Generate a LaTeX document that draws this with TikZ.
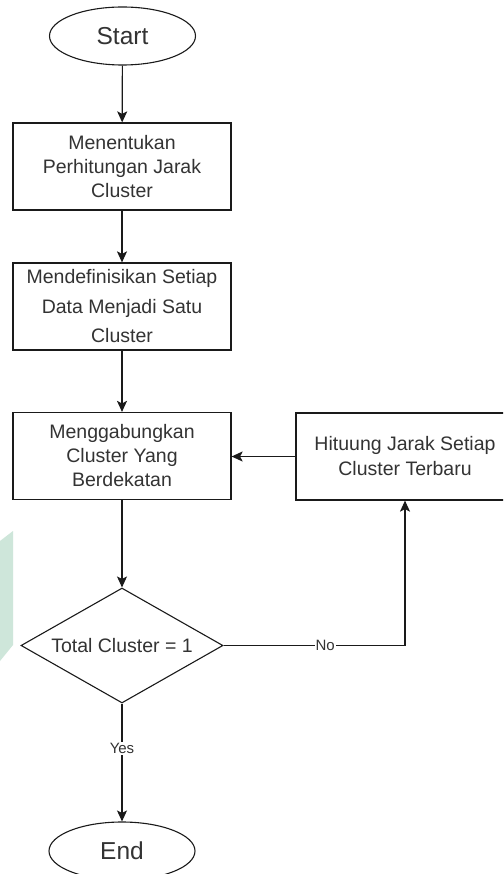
\documentclass[tikz,border=0pt]{standalone}
\usepackage{fontspec}
\setmainfont{Liberation Sans}
\usetikzlibrary{shapes.geometric,arrows.meta}
\definecolor{txt}{HTML}{333333}
\definecolor{ln}{HTML}{1A1A1A}
\definecolor{wm}{RGB}{206,230,218}
\begin{document}
\begin{tikzpicture}[x=1pt,y=-1pt,
  box/.style={draw=ln,line width=1.2pt,minimum width=218pt,minimum height=87pt,inner sep=0pt,align=center,text=txt,font=\fontsize{19.5}{24}\selectfont},
  term/.style={draw=ln,ellipse,line width=1.1pt,minimum width=146pt,minimum height=58pt,inner sep=0pt,text=txt,font=\fontsize{24.5}{28}\selectfont},
  dec/.style={draw=ln,diamond,aspect=1.757,line width=1.1pt,minimum width=202pt,minimum height=115pt,inner sep=0pt,text=txt,font=\fontsize{19.5}{24}\selectfont},
  arr/.style={draw=ln,line width=1.2pt,-{Stealth[length=11pt,width=10pt,inset=2.5pt]}},
  lbl/.style={fill=white,inner sep=1pt,text=txt,font=\fontsize{15}{18}\selectfont}]
\useasboundingbox (0,0) rectangle (503,874);
\clip (0,0) rectangle (503,874);
\fill[white] (0,0) rectangle (503,874);
% faint watermark at left edge
\fill[wm] (0,541) -- (13,531) -- (13,645) -- (0,661) -- cycle;

\node[term] (start) at (122.5,36) {Start};
\node[box] (b1) at (122,166.5) {Menentukan\\Perhitungan Jarak\\Cluster};
\node[box,font=\fontsize{19.5}{29.5}\selectfont] (b2) at (122,306.5) {Mendefinisikan Setiap\\Data Menjadi Satu\\Cluster};
\node[box] (b3) at (122,456) {Menggabungkan\\Cluster Yang\\Berdekatan};
\node[box,font=\fontsize{19.5}{25}\selectfont] (b4) at (405,456.5) {Hituung Jarak Setiap\\Cluster Terbaru};
\node[dec] (d) at (122,645.5) {Total Cluster = 1};
\node[term] (end) at (122,851) {End};

\draw[arr] (start) -- (b1);
\draw[arr] (b1) -- (b2);
\draw[arr] (b2) -- (b3);
\draw[arr] (b3) -- (d);
\draw[arr] (d.east) -| node[lbl,pos=0.28] {No} (b4.south);
\draw[arr] (b4.west) -- (b3.east |- b4.west);
\draw[arr] (d.south) -- node[lbl,pos=0.38] {Yes} (end.north);
\end{tikzpicture}
\end{document}
